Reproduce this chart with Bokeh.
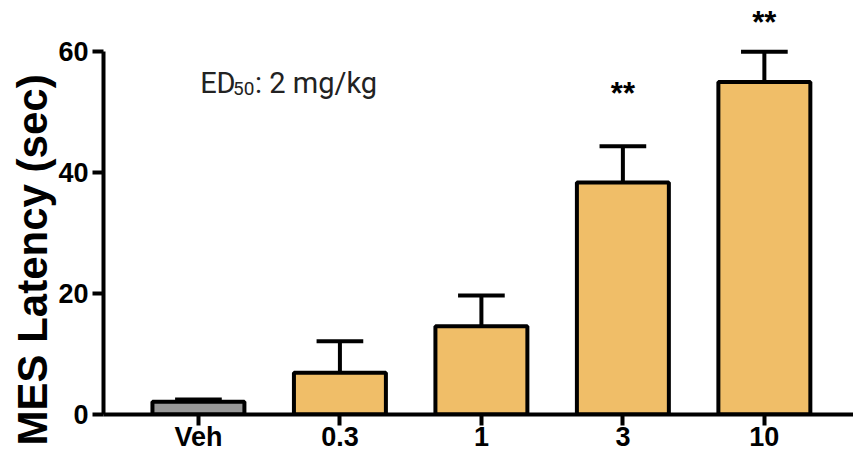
from bokeh.plotting import figure
from bokeh.models import ColumnDataSource, FixedTicker, Range1d, Title
from bokeh.core.properties import value
from bokeh.embed import file_html
from bokeh.resources import INLINE

# ---- data ----
categories = ["Veh", "0.3", "1", "3", "10"]
latency_mean = [2.1, 6.9, 14.6, 38.4, 55.0]
latency_sem = [0.4, 5.2, 5.1, 6.0, 5.0]
bar_colors = ["#999999", "#F0BE68", "#F0BE68", "#F0BE68", "#F0BE68"]
sig_labels = ["", "", "", "**", "**"]
y_ticks = [0, 20, 40, 60]
y_title = "MES Latency (sec)"

xs = list(range(len(categories)))
cap_half = 0.165

src = ColumnDataSource(dict(
    x=xs, top=latency_mean, color=bar_colors,
    err=[m + s for m, s in zip(latency_mean, latency_sem)],
    cap_l=[x - cap_half for x in xs], cap_r=[x + cap_half for x in xs],
))

p = figure(width=853, height=454, output_backend="svg", toolbar_location=None,
           x_range=Range1d(-0.671, 4.63), y_range=Range1d(0, 68.5),
           min_border_left=103, min_border_right=0, min_border_top=0, min_border_bottom=38)
p.outline_line_color = None
p.grid.visible = False
p.background_fill_color = "white"

LW = 4
# error bars (stem + cap)
p.segment(x0="x", y0="top", x1="x", y1="err", source=src, line_color="black", line_width=LW)
p.segment(x0="cap_l", y0="err", x1="cap_r", y1="err", source=src, line_color="black", line_width=LW)
# bars
p.vbar(x="x", top="top", bottom=0, width=0.65, source=src, fill_color="color",
       line_color="black", line_width=LW)

# significance stars
star_x = [x for x, s in zip(xs, sig_labels) if s]
star_t = [s for s in sig_labels if s]
star_y = [53.1, 64.8]
p.text(x=star_x, y=star_y, text=star_t, text_align="center", text_baseline="middle",
       text_font=value("Liberation Sans"), text_font_style="bold", text_font_size="31px",
       text_color="black")

# ED50 annotation
p.text(x=[0.012], y=[54.9], text=["ED"], text_align="left", text_baseline="alphabetic",
       text_font=value("Roboto"), text_font_size="29px", text_color="#222222")
p.text(x=[0.245], y=[54.0], text=["50"], text_align="left", text_baseline="alphabetic",
       text_font=value("Roboto"), text_font_size="19px", text_color="#222222")
p.text(x=[0.40], y=[54.9], text=[": 2 mg/kg"], text_align="left", text_baseline="alphabetic",
       text_font=value("Roboto"), text_font_size="29px", text_color="#222222")

# axes
for ax in (p.xaxis[0], p.yaxis[0]):
    ax.axis_line_width = LW
    ax.axis_line_color = "black"
    ax.major_tick_line_width = LW
    ax.major_tick_line_color = "black"
    ax.major_tick_in = 0
    ax.minor_tick_line_color = None
    ax.major_label_text_font = "Liberation Sans"
    ax.major_label_text_font_style = "bold"
    ax.major_label_text_font_size = "27px"
    ax.major_label_text_color = "black"

p.xaxis.ticker = FixedTicker(ticks=xs)
p.xaxis.major_label_overrides = {i: c for i, c in enumerate(categories)}
p.xaxis.major_tick_out = 11
p.xaxis.major_label_standoff = -4

p.yaxis.ticker = FixedTicker(ticks=y_ticks)
p.yaxis.bounds = (0, 60)
p.yaxis.major_tick_out = 11
p.yaxis.major_label_standoff = 4

# y-axis title as a side title, starting a little below the frame bottom
p.add_layout(Title(text=y_title, align="left", offset=-31, standoff=0,
                   text_font="Liberation Sans", text_font_style="bold",
                   text_font_size="42px", text_color="black"), "left")

open("out.html", "w").write(file_html(p, INLINE))
